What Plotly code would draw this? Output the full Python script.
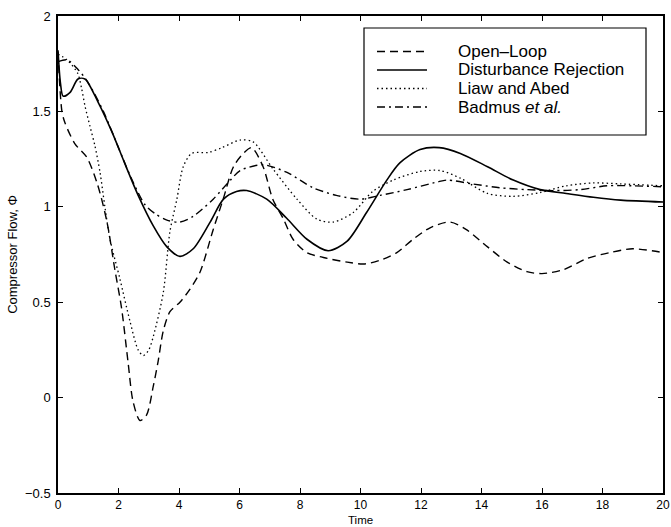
import plotly.graph_objects as go

# ---------------- data ----------------
open_loop_t = [0, 0.13, 0.23, 0.56, 0.95, 1.3, 1.62, 1.88, 2.1, 2.32, 2.48, 2.71, 2.93, 3.15, 3.31,
               3.48, 3.7, 4.03, 4.37, 4.7, 5.13, 5.46, 5.8, 6.13, 6.4, 6.78, 7.1, 7.44, 7.77, 8.23,
               8.9, 9.56, 10.1, 10.65, 11.2, 11.74, 12.3, 12.96, 13.5, 14.2, 14.85, 15.5, 16.0,
               16.7, 17.5, 18.25, 19.0, 20]
open_loop_y = [1.81, 1.50, 1.44, 1.33, 1.26, 1.12, 0.92, 0.67, 0.47, 0.18, -0.02, -0.12, -0.09, 0.06, 0.19,
               0.35, 0.45, 0.50, 0.57, 0.66, 0.88, 1.04, 1.21, 1.28, 1.31, 1.21, 1.04, 0.94, 0.83, 0.76,
               0.73, 0.71, 0.70, 0.72, 0.76, 0.83, 0.89, 0.92, 0.88, 0.79, 0.71, 0.66, 0.65,
               0.67, 0.73, 0.76, 0.78, 0.76]

dist_rej_t = [0, 0.08, 0.17, 0.4, 0.66, 0.89, 1.32, 1.79, 2.2, 2.65, 3.15, 3.6, 4.03, 4.47, 5.03,
              5.47, 5.9, 6.24, 6.9, 7.56, 8.23, 8.93, 9.56, 10.2, 10.87, 11.3, 11.97, 12.6, 13.3,
              14.2, 15.05, 15.94, 16.8, 17.7, 18.6, 20]
dist_rej_y = [1.82, 1.65, 1.58, 1.60, 1.67, 1.67, 1.55, 1.39, 1.23, 1.06, 0.90, 0.79, 0.74, 0.78, 0.92,
              1.04, 1.08, 1.085, 1.04, 0.94, 0.83, 0.77, 0.82, 0.97, 1.14, 1.23, 1.30, 1.31, 1.28,
              1.21, 1.14, 1.09, 1.07, 1.05, 1.035, 1.025]

liaw_t = [0, 0.3, 0.65, 0.78, 0.89, 1.06, 1.22, 1.39, 1.55, 1.72, 2.05, 2.38, 2.65, 2.82, 3.0, 3.15,
          3.48, 3.7, 3.93, 4.14, 4.42, 4.97, 5.42, 6.02, 6.45, 7.1, 7.9, 8.56, 9.1, 9.76, 10.4,
          11.08, 11.97, 12.63, 13.3, 14.2, 15.05, 15.94, 16.8, 17.7, 18.6, 20]
liaw_y = [1.80, 1.77, 1.70, 1.62, 1.53, 1.42, 1.32, 1.18, 1.0, 0.83, 0.62, 0.40, 0.25, 0.22, 0.25, 0.32,
          0.55, 0.87, 1.04, 1.21, 1.28, 1.285, 1.31, 1.35, 1.34, 1.2, 1.04, 0.935, 0.92, 0.97, 1.08,
          1.14, 1.185, 1.19, 1.15, 1.07, 1.055, 1.075, 1.11, 1.125, 1.12, 1.11]

badmus_t = [0, 0.3, 0.66, 1.0, 1.5, 2.0, 2.45, 2.88, 3.2, 3.6, 4.03, 4.47, 5.13, 5.7, 6.02, 6.78,
            7.57, 8.43, 9.2, 9.99, 10.65, 11.54, 12.53, 12.86, 13.7, 14.6, 15.5, 16.37, 17.26,
            18.15, 19.0, 20]
badmus_y = [1.76, 1.77, 1.72, 1.65, 1.50, 1.31, 1.14, 1.01, 0.965, 0.93, 0.92, 0.95, 1.04, 1.14, 1.19, 1.22,
            1.18, 1.10, 1.06, 1.04, 1.06, 1.09, 1.13, 1.14, 1.12, 1.10, 1.09, 1.085, 1.09,
            1.11, 1.11, 1.105]

series_names = ["Open–Loop", "Disturbance Rejection", "Liaw and Abed", "Badmus <i>et al.</i>"]
x_ticks = [0, 2, 4, 6, 8, 10, 12, 14, 16, 18, 20]
y_ticks = [-0.5, 0, 0.5, 1, 1.5, 2]
y_tick_text = ["−0.5", "0", "0.5", "1", "1.5", "2"]
x_title = "Time"
y_title = "Compressor Flow, Φ"

# ---------------- styling ----------------
FONT = "Liberation Sans, Arial, Helvetica, sans-serif"
series = [
    (open_loop_t, open_loop_y, "8px,5px", 1.4),
    (dist_rej_t, dist_rej_y, "solid", 1.6),
    (liaw_t, liaw_y, "1.5px,3px", 1.3),
    (badmus_t, badmus_y, "8px,4px,2px,4px", 1.4),
]

W, H = 671, 527
ML, MR, MT, MB = 58, 8, 16, 34
PW, PH = W - ML - MR, H - MT - MB


def px2paper(px, py):
    return (px - ML) / PW, (H - MB - py) / PH


fig = go.Figure()
for (t, y, dash, w), name in zip(series, series_names):
    fig.add_trace(go.Scatter(x=t, y=y, mode="lines", name=name,
                             line=dict(color="black", width=w, dash=dash, shape="spline", smoothing=0.8),
                             showlegend=False))

# custom legend box
bx0, by0 = px2paper(364, 135)
bx1, by1 = px2paper(646, 28)
fig.add_shape(type="rect", xref="paper", yref="paper", x0=bx0, y0=by0, x1=bx1, y1=by1,
              line=dict(color="black", width=1.2), fillcolor="white", layer="above")
row_py = [51.5, 70, 88.5, 107]
for (t, y, dash, w), name, rpy in zip(series, series_names, row_py):
    lx0, ly = px2paper(377, rpy)
    lx1, _ = px2paper(427, rpy)
    tx, _ = px2paper(456, rpy)
    fig.add_shape(type="line", xref="paper", yref="paper", x0=lx0, x1=lx1, y0=ly, y1=ly,
                  line=dict(color="black", width=w, dash=dash), layer="above")
    fig.add_annotation(xref="paper", yref="paper", x=tx, y=ly, text=name, showarrow=False,
                       xanchor="left", yanchor="middle", font=dict(family=FONT, size=17, color="black"))

# x-axis title placed at the bottom edge, below tick labels
_, ty = px2paper(0, 527)
fig.add_annotation(xref="paper", yref="paper", x=0.5, y=ty, text=x_title, showarrow=False,
                   xanchor="center", yanchor="bottom", borderpad=0,
                   font=dict(family=FONT, size=11.5, color="black"))

axis_common = dict(showline=True, linecolor="black", linewidth=1.5, mirror="ticks",
                   ticks="inside", ticklen=5, tickwidth=1.2, tickcolor="black",
                   showgrid=False, zeroline=False)

fig.update_layout(
    width=W, height=H,
    margin=dict(l=ML, r=MR, t=MT, b=MB),
    paper_bgcolor="white", plot_bgcolor="white",
    xaxis=dict(range=[0, 20], tickvals=x_ticks, ticktext=[str(v) for v in x_ticks],
               automargin=False, ticklabelstandoff=0,
               tickfont=dict(family=FONT, size=12, color="black"), **axis_common),
    yaxis=dict(range=[-0.5, 2], tickvals=y_ticks, ticktext=y_tick_text,
               title=dict(text=y_title, font=dict(family=FONT, size=13, color="black"), standoff=4),
               automargin=False, ticklabelstandoff=3,
               tickfont=dict(family=FONT, size=13, color="black"), **axis_common),
    showlegend=False,
)

fig.write_html("out.html")
